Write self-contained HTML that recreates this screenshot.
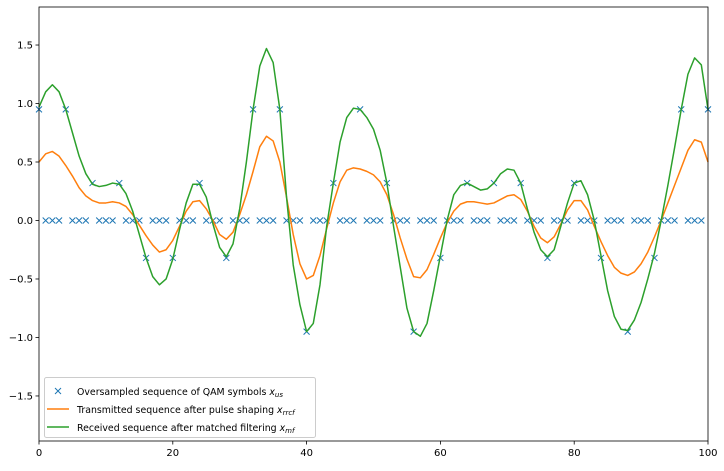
<!DOCTYPE html>
<html><head><meta charset="utf-8"><style>
html,body{margin:0;padding:0;background:#fff;}
svg text{font-family:"DejaVu Sans","Liberation Sans",sans-serif;font-size:10px;fill:#000;}
</style></head><body>
<svg id="chart" width="724" height="466" viewBox="0 0 724 466">
<g id="plot"></g>
</svg>
<script>
const symbolIdx=[0,4,8,12,16,20,24,28,32,36,40,44,48,52,56,60,64,68,72,76,80,84,88,92,96,100];
const symbolVals=[0.95,0.95,0.32,0.32,-0.32,-0.32,0.32,-0.32,0.95,0.95,-0.95,0.32,0.95,0.32,-0.95,-0.32,0.32,0.32,0.32,-0.32,0.32,-0.32,-0.95,-0.32,0.95,0.95];
const rrcf=[0.5,0.57,0.59,0.55,0.47,0.38,0.28,0.21,0.17,0.15,0.15,0.16,0.15,0.12,0.05,-0.04,-0.13,-0.21,-0.27,-0.25,-0.17,-0.05,0.08,0.16,0.17,0.1,0.0,-0.12,-0.16,-0.1,0.05,0.22,0.42,0.63,0.72,0.68,0.5,0.2,-0.12,-0.37,-0.5,-0.47,-0.3,-0.07,0.15,0.33,0.43,0.45,0.44,0.42,0.39,0.33,0.22,0.05,-0.15,-0.33,-0.48,-0.49,-0.42,-0.29,-0.15,-0.02,0.08,0.14,0.16,0.16,0.15,0.14,0.15,0.18,0.21,0.22,0.18,0.08,-0.05,-0.15,-0.19,-0.14,-0.03,0.09,0.17,0.17,0.09,-0.05,-0.18,-0.3,-0.4,-0.45,-0.47,-0.44,-0.37,-0.27,-0.14,0.0,0.15,0.3,0.45,0.6,0.69,0.67,0.5];
const mf=[0.97,1.1,1.16,1.1,0.95,0.75,0.55,0.4,0.31,0.29,0.3,0.32,0.31,0.23,0.08,-0.12,-0.32,-0.48,-0.55,-0.5,-0.33,-0.08,0.15,0.31,0.31,0.2,-0.03,-0.23,-0.31,-0.2,0.1,0.5,0.95,1.32,1.47,1.35,0.95,0.2,-0.38,-0.72,-0.95,-0.88,-0.55,-0.05,0.32,0.67,0.88,0.96,0.95,0.88,0.78,0.6,0.32,-0.05,-0.4,-0.75,-0.95,-0.99,-0.88,-0.6,-0.3,0.0,0.22,0.3,0.32,0.29,0.26,0.27,0.32,0.4,0.44,0.43,0.32,0.1,-0.1,-0.25,-0.31,-0.25,-0.05,0.15,0.32,0.34,0.22,0.0,-0.3,-0.6,-0.82,-0.93,-0.94,-0.85,-0.7,-0.5,-0.28,0.0,0.3,0.62,0.95,1.25,1.39,1.33,0.95];
const xTicks=[0,20,40,60,80,100];
const yTicks=[-1.5,-1.0,-0.5,0.0,0.5,1.0,1.5];
const yTickLabels=["−1.5","−1.0","−0.5","0.0","0.5","1.0","1.5"];

const L=39,R=708,T=7,B=441;
const xmin=0,xmax=100,ymin=-1.885,ymax=1.825;
const sx=v=>L+(v-xmin)/(xmax-xmin)*(R-L);
const sy=v=>B-(v-ymin)/(ymax-ymin)*(B-T);
const NS="http://www.w3.org/2000/svg";
const g=document.getElementById('plot');
function mk(tag,attrs,parent){const e=document.createElementNS(NS,tag);for(const k in attrs)e.setAttribute(k,attrs[k]);(parent||g).appendChild(e);return e;}

const gx=mk('g',{});


for(let i=0;i<=100;i++){
  const k=symbolIdx.indexOf(i);const v=k>=0?symbolVals[k]:0;
  const cx=sx(i),cy=sy(v),s=3;
  const p=mk('path',{d:`M${cx-s},${cy-s}L${cx+s},${cy+s}M${cx-s},${cy+s}L${cx+s},${cy-s}`,stroke:'#1f77b4','stroke-width':1,fill:'none'},gx);
  
  
}
function line(arr,color,name){
  const d=arr.map((v,i)=>(i?'L':'M')+sx(i).toFixed(2)+','+sy(v).toFixed(2)).join('');
  const p=mk('path',{d:d,stroke:color,'stroke-width':1.5,fill:'none','stroke-linejoin':'round'});
  
  
}
line(rrcf,'#ff7f0e','rrcf-line');
line(mf,'#2ca02c','mf-line');

const frame=mk('rect',{x:L,y:T,width:R-L,height:B-T,fill:'none',stroke:'#000','stroke-width':0.8});


xTicks.forEach(t=>{
  const x=sx(t);
  const tk=mk('line',{x1:x,x2:x,y1:B,y2:B+3.5,stroke:'#000','stroke-width':0.8});
  
  
  const tx=mk('text',{x:x,y:B+15,'text-anchor':'middle'});tx.textContent=t;
  
  
});
yTicks.forEach((t,i)=>{
  const y=sy(t);
  const tk=mk('line',{x1:L-3.5,x2:L,y1:y,y2:y,stroke:'#000','stroke-width':0.8});
  
  
  const tx=mk('text',{x:L-6,y:y+3.5,'text-anchor':'end'});tx.textContent=yTickLabels[i];
  
  
});
</script>
<svg width="724" height="466" style="position:absolute;left:0;top:0">
<g style="font-family:'DejaVu Sans','Liberation Sans',sans-serif;font-size:9.4px">
<rect x="44.5" y="377.5" width="271" height="60" rx="2" fill="#fff" fill-opacity="0.8" stroke="#ccc"/>
<path d="M55,388L61,394M55,394L61,388" stroke="#1f77b4"/>
<text x="77" y="395" style="font-size:9.4px">Oversampled sequence of QAM symbols <tspan font-style="italic">x</tspan><tspan font-style="italic" font-size="7" dy="2">us</tspan></text>
<line x1="47" x2="69" y1="409" y2="409" stroke="#ff7f0e" stroke-width="1.5"/>
<text x="77" y="413" style="font-size:9.4px">Transmitted sequence after pulse shaping <tspan font-style="italic">x</tspan><tspan font-style="italic" font-size="7" dy="2">rrcf</tspan></text>
<line x1="47" x2="69" y1="427" y2="427" stroke="#2ca02c" stroke-width="1.5"/>
<text x="77" y="431" style="font-size:9.4px">Received sequence after matched filtering <tspan font-style="italic">x</tspan><tspan font-style="italic" font-size="7" dy="2">mf</tspan></text>
</g>
</svg>
</body></html>
